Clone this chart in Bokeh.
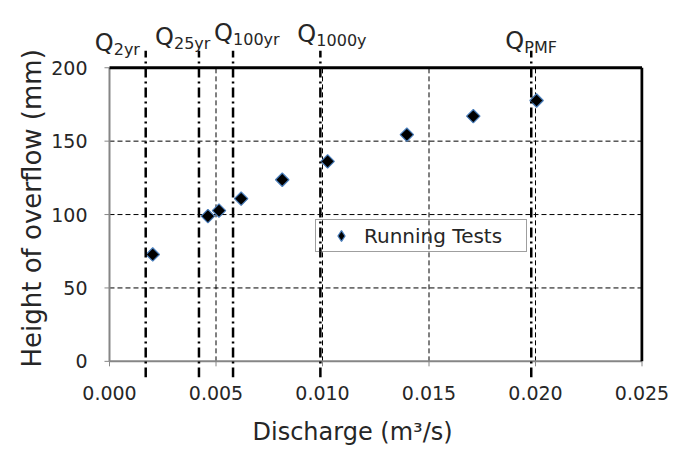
import math
from bokeh.plotting import figure
from bokeh.models import (Range1d, FixedTicker, NumeralTickFormatter, Arrow,
                          Label, Legend, LegendItem, Title)
from bokeh.embed import file_html
from bokeh.resources import INLINE

# ---- data ----
discharge = [0.00203, 0.00462, 0.00514, 0.00618, 0.00811, 0.01024, 0.01396, 0.01708, 0.02005]
height = [72.8, 98.9, 102.7, 110.8, 123.7, 136.2, 154.4, 167.0, 177.7]
ref_names = ["2yr", "25yr", "100yr", "1000y", "PMF"]
ref_q = [0.0017, 0.0042, 0.0058, 0.0099, 0.0198]
x_ticks = [0.0, 0.005, 0.010, 0.015, 0.020, 0.025]
y_ticks = [0, 50, 100, 150, 200]

# ---- style ----
FONT = "DejaVu Sans"
TXT = "#262626"
AX = "#868686"
label_dx = [-51, -44, -19, -23, -26]      # px offset of "Q" from its line
label_dy = [25, 31, 35, 34, 27]           # px of Q baseline above the 200 line
q_width = 19
X_MAX, Y_MAX = 0.025, 200
TICK_LEN = 0.000235                        # ~5 px outward tick on the y axis

p = figure(width=686, height=458, output_backend="svg", toolbar_location=None,
           x_range=Range1d(-0.000892, 0.02507), y_range=Range1d(-11, 239),
           min_border_left=90, min_border_right=43, min_border_top=10, min_border_bottom=81)
p.background_fill_color = "white"
p.border_fill_color = "white"
p.outline_line_color = None

# grids drawn only inside the 0..0.025 x 0..200 box
p.xgrid.grid_line_color = None
p.ygrid.grid_line_color = None
n_in = len(x_ticks) - 2
p.segment(x0=x_ticks[1:-1], y0=[0] * n_in, x1=x_ticks[1:-1], y1=[Y_MAX] * n_in,
          line_color="black", line_dash="5 3", line_width=1)
m_in = len(y_ticks) - 2
p.segment(x0=[0] * m_in, y0=y_ticks[1:-1], x1=[X_MAX] * m_in, y1=y_ticks[1:-1],
          line_color="black", line_dash="5 3", line_width=1)

# axes (labels real; rules drawn at the data origin below)
p.xaxis.ticker = FixedTicker(ticks=x_ticks)
p.xaxis.formatter = NumeralTickFormatter(format="0.000")
p.yaxis.ticker = FixedTicker(ticks=y_ticks)
p.yaxis.bounds = (0, Y_MAX)
for ax in (p.xaxis, p.yaxis):
    ax.axis_line_color = None
    ax.major_tick_line_color = None
    ax.major_tick_out = 0
    ax.major_tick_in = 0
    ax.minor_tick_line_color = None
    ax.major_label_text_font = FONT
    ax.major_label_text_font_size = "19px"
    ax.major_label_text_color = TXT
p.xaxis.major_label_standoff = 8
p.yaxis.major_label_standoff = 3

# axis rules and ticks at the origin
p.segment(x0=[0], y0=[0], x1=[X_MAX], y1=[0], line_color=AX, line_width=2)
p.segment(x0=[0], y0=[0], x1=[0], y1=[Y_MAX], line_color=AX, line_width=2)
p.segment(x0=x_ticks, y0=[0] * len(x_ticks), x1=x_ticks, y1=[-3.4] * len(x_ticks),
          line_color=AX, line_width=1)
p.segment(x0=[0] * len(y_ticks), y0=y_ticks, x1=[-TICK_LEN] * len(y_ticks), y1=y_ticks,
          line_color=AX, line_width=1)

# top / right frame
p.segment(x0=[0], y0=[Y_MAX], x1=[X_MAX], y1=[Y_MAX], line_color="black", line_width=3)
p.segment(x0=[X_MAX], y0=[0], x1=[X_MAX], y1=[Y_MAX], line_color="black", line_width=3)

# reference discharge lines and labels
for name, q, dx, dy in zip(ref_names, ref_q, label_dx, label_dy):
    p.add_layout(Arrow(end=None, x_start=q, y_start=-11, x_end=q, y_end=211.5,
                       line_color="black", line_width=2.5, line_dash="10 4 2 4"))
    p.add_layout(Label(x=q, y=Y_MAX, x_offset=dx, y_offset=dy, text="Q",
                       text_font=FONT, text_font_size="24px", text_color=TXT,
                       text_baseline="alphabetic", text_align="left"))
    p.add_layout(Label(x=q, y=Y_MAX, x_offset=dx + q_width, y_offset=dy - 7, text=name,
                       text_font=FONT, text_font_size="16px", text_color=TXT,
                       text_baseline="alphabetic", text_align="left"))

# data points (diamond underneath for the legend glyph, rotated square on top)
r_leg = p.scatter(discharge, height, marker="diamond", size=12,
                  fill_color="black", line_color="#4a7ebb", line_width=1.2)
p.scatter(discharge, height, marker="square", angle=math.pi / 4, size=9.5,
          fill_color="black", line_color="#4a7ebb", line_width=1.2)

legend = Legend(items=[LegendItem(label="Running Tests", renderers=[r_leg])],
                location=(225, 125), padding=2, margin=0, glyph_width=46, glyph_height=27,
                label_standoff=0, label_width=160, label_height=16, spacing=0,
                label_text_font=FONT, label_text_font_size="20px", label_text_color=TXT,
                border_line_color="#404040", border_line_width=1, background_fill_alpha=0)
p.add_layout(legend)

# axis titles
p.add_layout(Title(text="Height of overflow (mm)", align="left", offset=10, standoff=4,
                   text_font=FONT, text_font_size="26px", text_font_style="normal",
                   text_color=TXT), "left")
p.add_layout(Title(text="Discharge (m³/s)", align="left", offset=162, standoff=26,
                   text_font=FONT, text_font_size="24px", text_font_style="normal",
                   text_color=TXT), "below")

open("out.html", "w").write(file_html(p, INLINE))
